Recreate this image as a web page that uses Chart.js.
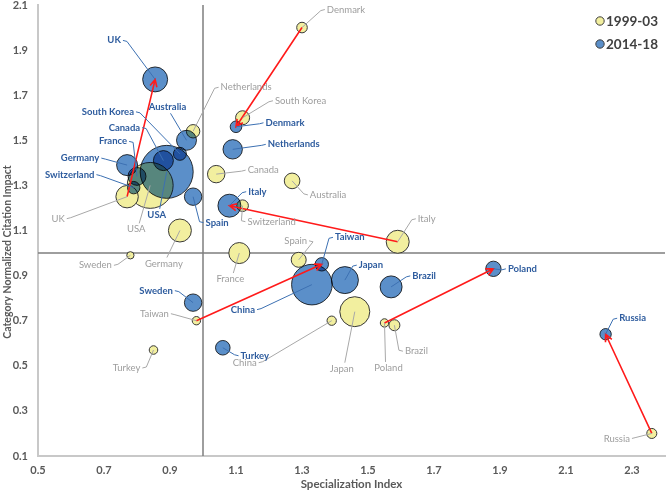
<!DOCTYPE html>
<html>
<head>
<meta charset="utf-8">
<script src="https://cdn.jsdelivr.net/npm/chart.js@4.4.1/dist/chart.umd.min.js"></script>
<style>
  html, body { margin: 0; padding: 0; background: #fff; }
</style>
</head>
<body>
<canvas id="myChart" width="666" height="492"></canvas>
<script>
// countries, same order in every array
const countries = ['UK', 'Australia', 'South Korea', 'Canada', 'USA', 'Germany', 'France', 'Switzerland', 'Spain', 'Denmark',
  'Netherlands', 'Italy', 'Taiwan', 'China', 'Japan', 'Brazil', 'Poland', 'Russia', 'Sweden', 'Turkey'];

// 1999-03
const si9903 = [0.77, 1.27, 1.12, 1.04, 0.84, 0.93, 1.11, 1.12, 1.29, 1.30, 0.97, 1.59, 0.98, 1.39, 1.46, 1.58, 1.55, 2.36, 0.78, 0.85];
const cnci9903 = [1.25, 1.32, 1.60, 1.35, 1.30, 1.10, 1.00, 1.21, 0.97, 2.00, 1.54, 1.05, 0.70, 0.70, 0.74, 0.68, 0.69, 0.20, 0.99, 0.57];
const output9903 = [17.9, 8.7, 7.0, 10.8, 75, 18.8, 15.7, 4.8, 8.0, 4.0, 6.4, 18.8, 2.5, 3.1, 32, 4.3, 2.5, 3.6, 1.9, 2.6];

// 2014-18
const si1418 = [0.855, 0.95, 0.93, 0.88, 0.89, 0.77, 0.80, 0.79, 0.97, 1.10, 1.09, 1.08, 1.36, 1.33, 1.43, 1.57, 1.88, 2.22, 0.97, 1.06];
const cnci1418 = [1.77, 1.50, 1.44, 1.41, 1.36, 1.39, 1.34, 1.29, 1.25, 1.56, 1.46, 1.21, 0.95, 0.86, 0.88, 0.85, 0.93, 0.64, 0.78, 0.58];
const output1418 = [22.2, 14.2, 6.0, 14.2, 100, 15.7, 11.5, 5.5, 10.8, 4.8, 13.4, 18.8, 6.4, 58.7, 26, 17.2, 8.4, 4.6, 10.8, 7.6];

const xTicks = [0.5, 0.7, 0.9, 1.1, 1.3, 1.5, 1.7, 1.9, 2.1, 2.3];
const yTicks = [0.1, 0.3, 0.5, 0.7, 0.9, 1.1, 1.3, 1.5, 1.7, 1.9, 2.1];
const periods = ['1999-03', '2014-18'];
const arrowCountries = ['UK', 'Denmark', 'Italy', 'Taiwan', 'Poland', 'Russia'];
const yTitle = 'Category Normalized Citation Impact';

// label placement (pixel offsets from bubble centre), layout only
const labelOffsets = [
  { UK: [-69, 22], Australia: [36, 14], 'South Korea': [58, -17], Canada: [47, -4], USA: [-14, 44], Germany: [-16, 33],
    France: [-9, 26], Switzerland: [29, 16], Spain: [-3, -19], Denmark: [44, -18], Netherlands: [53, -44], Italy: [29, -23],
    Taiwan: [-42, -7], China: [-87, 42], Japan: [-13, 57], Brazil: [22, 26], Poland: [4, 45], Russia: [-35, 5],
    Sweden: [-35, 10], Turkey: [-27, 18] },
  { UK: [-41, -39], Australia: [-19, -33], 'South Korea': [-72, -42], Canada: [-39, -33], USA: [-10, 43], Germany: [-47, -7],
    France: [-24, -35], Switzerland: [-64, -13], Spain: [24, 26], Denmark: [49, -4], Netherlands: [61, -5], Italy: [28, -14],
    Taiwan: [28, -27], China: [-69, 25], Japan: [26, -15], Brazil: [33, -11], Poland: [29, 0], Russia: [27, -16],
    Sweden: [-37, -12], Turkey: [32, 8] }
];

const FONT = 'Lato';
const radiusOf = v => 2.65 * Math.sqrt(v);

function points(xs, ys, vs) {
  return countries.map((c, i) => ({ x: xs[i], y: ys[i], r: radiusOf(vs[i]), country: c }))
    .sort((a, b) => b.r - a.r);
}

const series = [
  { x: si9903, y: cnci9903, fill: '#f2ef9f', text: '#9d9d9d', lead: '#a8a8a8', weight: 'normal' },
  { x: si1418, y: cnci1418, fill: 'rgba(62,123,191,0.85)', text: '#2e5c9e', lead: '#3c70b2', weight: 'bold' }
];

const overlay = {
  id: 'overlay',
  beforeDatasetsDraw(chart) {
    const { ctx, chartArea: a, scales: { x, y } } = chart;
    const px = x.getPixelForValue(1), py = y.getPixelForValue(1);
    ctx.save();
    ctx.strokeStyle = '#7f7f7f';
    ctx.lineWidth = 1.5;
    ctx.beginPath();
    ctx.moveTo(px, a.top); ctx.lineTo(px, a.bottom);
    ctx.moveTo(a.left, py); ctx.lineTo(a.right, py);
    ctx.stroke();
    // y axis title, centred a little below the plot middle as in the original
    ctx.translate(8, 252);
    ctx.rotate(-Math.PI / 2);
    ctx.font = 'bold 10.5px ' + FONT;
    ctx.fillStyle = '#595959';
    ctx.textAlign = 'center';
    ctx.textBaseline = 'middle';
    ctx.fillText(yTitle, 0, 0);
    ctx.restore();
  },
  beforeDatasetDraw(chart, args) {
    if (args.index === 1) {
      chart.ctx.save();
      chart.ctx.globalCompositeOperation = 'multiply';
    }
  },
  afterDatasetDraw(chart, args) {
    if (args.index === 1) chart.ctx.restore();
  },
  afterDatasetsDraw(chart) {
    const { ctx, scales: { x, y } } = chart;
    ctx.save();

    // arrows 1999-03 -> 2014-18
    ctx.strokeStyle = '#ff1a1a';
    ctx.lineWidth = 1.6;
    arrowCountries.forEach(c => {
      const i = countries.indexOf(c);
      const x0 = x.getPixelForValue(si9903[i]), y0 = y.getPixelForValue(cnci9903[i]);
      const x1 = x.getPixelForValue(si1418[i]), y1 = y.getPixelForValue(cnci1418[i]);
      const ang = Math.atan2(y1 - y0, x1 - x0);
      ctx.beginPath();
      ctx.moveTo(x0, y0); ctx.lineTo(x1, y1);
      ctx.moveTo(x1 - 8 * Math.cos(ang - 0.45), y1 - 8 * Math.sin(ang - 0.45));
      ctx.lineTo(x1, y1);
      ctx.lineTo(x1 - 8 * Math.cos(ang + 0.45), y1 - 8 * Math.sin(ang + 0.45));
      ctx.stroke();
    });

    // labels with leader lines
    ctx.textAlign = 'center';
    ctx.textBaseline = 'middle';
    series.forEach((s, k) => {
      ctx.font = s.weight + ' 9.5px ' + FONT;
      countries.forEach((c, i) => {
        const cx = x.getPixelForValue(s.x[i]), cy = y.getPixelForValue(s.y[i]);
        const [dx, dy] = labelOffsets[k][c];
        const lx = cx + dx, ly = cy + dy;
        const w = ctx.measureText(c).width;
        ctx.strokeStyle = s.lead;
        ctx.lineWidth = 1;
        ctx.beginPath();
        if (Math.abs(dy) > 20 && Math.abs(dx) < w / 2 + 8) {
          const sy = ly - Math.sign(dy) * 6;
          ctx.moveTo(lx + Math.sign(-dx) * 3, sy);
        } else {
          const side = Math.sign(dx) || 1;
          ctx.moveTo(lx - side * (w / 2 + 2), ly);
          ctx.lineTo(lx - side * (w / 2 + 6), ly + (dy > 0 ? -1 : 1));
        }
        ctx.lineTo(cx, cy);
        ctx.stroke();
        ctx.fillStyle = s.text;
        ctx.fillText(c, lx, ly);
      });
    });

    // legend
    ctx.textAlign = 'left';
    ctx.font = 'bold 13.5px ' + FONT;
    periods.forEach((p, k) => {
      const ly = 21 + k * 23;
      ctx.beginPath();
      ctx.arc(600, ly, 4.2, 0, Math.PI * 2);
      ctx.fillStyle = k === 0 ? series[0].fill : '#5b8fc9';
      ctx.fill();
      ctx.strokeStyle = '#404040';
      ctx.lineWidth = 1;
      ctx.stroke();
      ctx.fillStyle = '#404040';
      ctx.fillText(p, 606, ly + 1);
    });
    ctx.restore();
  }
};

new Chart(document.getElementById('myChart'), {
  type: 'bubble',
  data: {
    datasets: series.map((s, k) => ({
      label: periods[k],
      data: points(s.x, s.y, k === 0 ? output9903 : output1418),
      backgroundColor: s.fill,
      borderColor: '#383838',
      borderWidth: 1,
      hoverBorderWidth: 1,
      hoverRadius: 0,
      clip: false,
      order: 1 - k
    }))
  },
  options: {
    responsive: false,
    animation: false,
    devicePixelRatio: 1,
    layout: { autoPadding: false, padding: { top: 5, right: 1, left: 0, bottom: 0 } },
    plugins: { legend: { display: false }, tooltip: { enabled: false } },
    scales: {
      x: {
        type: 'linear', min: 0.5, max: 2.4,
        afterBuildTicks: s => { s.ticks = xTicks.map(v => ({ value: v })); },
        afterFit: s => { s.height = 36; s.paddingLeft = 0; s.paddingRight = 0; },
        grid: { display: false, drawTicks: false },
        border: { display: true, color: '#c8c8c8', width: 2 },
        ticks: { color: '#595959', padding: 8, maxRotation: 0, autoSkip: false,
          font: { family: FONT, size: 11, weight: 'bold' }, callback: v => Number(v).toFixed(1) },
        title: { display: true, text: 'Specialization Index', color: '#595959',
          font: { family: FONT, size: 11.5, weight: 'bold' }, padding: { top: 0, bottom: 1 } }
      },
      y: {
        type: 'linear', min: 0.1, max: 2.1,
        afterBuildTicks: s => { s.ticks = yTicks.map(v => ({ value: v })); },
        afterFit: s => { s.width = 38; s.paddingTop = 0; s.paddingBottom = 0; },
        grid: { display: false, drawTicks: false },
        border: { display: true, color: '#c8c8c8', width: 2 },
        ticks: { color: '#595959', padding: 10, autoSkip: false,
          font: { family: FONT, size: 11, weight: 'bold' }, callback: v => Number(v).toFixed(1) },
        title: { display: false }
      }
    }
  },
  plugins: [overlay]
});
</script>
</body>
</html>
